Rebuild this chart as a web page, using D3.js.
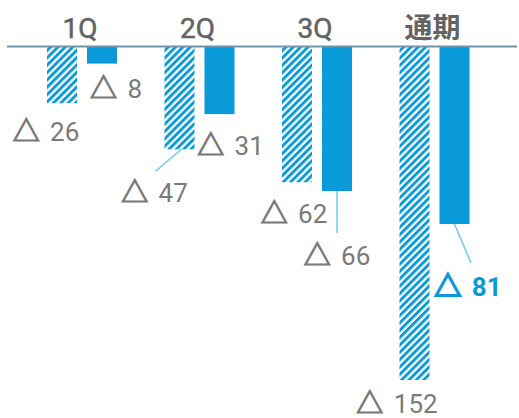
<!DOCTYPE html>
<html>
<head>
<meta charset="utf-8">
<script src="https://cdn.jsdelivr.net/npm/d3@7"></script>
<style>
  html, body { margin: 0; padding: 0; background: #fff; }
  svg { display: block; }
  text { font-family: Roboto, "Noto Sans CJK JP", sans-serif; }
</style>
</head>
<body>
<svg id="chart" width="519" height="418"></svg>
<script>
// Quarterly losses (△ = negative), previous year vs current year
const categories = ["1Q", "2Q", "3Q", "通期"];
const previousYear = [26, 47, 62, 152];
const currentYear = [8, 31, 66, 81];
const seriesKeys = ["prev", "curr"];

const svg = d3.select("#chart");

const blue = "#0a9ad9";
const leaderBlue = "#6cc9f0";

// hatched pattern for previous-year bars
const defs = svg.append("defs");
const pat = defs.append("pattern")
  .attr("id", "hatch")
  .attr("patternUnits", "userSpaceOnUse")
  .attr("width", 5.2).attr("height", 5.2)
  .attr("patternTransform", "rotate(45)");
pat.append("rect").attr("width", 5.2).attr("height", 5.2).attr("fill", "#fff");
pat.append("rect").attr("width", 2.9).attr("height", 5.2).attr("fill", blue);

const x = d3.scaleBand().domain(categories).range([23.25, 493.25]).padding(0);
const xs = d3.scaleBand().domain(seriesKeys).range([-35, 35]).paddingInner(0.25).paddingOuter(0);
const y = d3.scaleLinear().domain([0, 152]).range([46, 380]);

const rows = categories.map((c, i) => ({ cat: c, prev: previousYear[i], curr: currentYear[i] }));
const bars = [];
rows.forEach(r => seriesKeys.forEach(k => bars.push({ cat: r.cat, key: k, value: r[k] })));

const cx = d => x(d.cat) + x.bandwidth() / 2;

svg.append("g").selectAll("rect")
  .data(bars)
  .join("rect")
  .attr("x", d => cx(d) + xs(d.key))
  .attr("y", y(0))
  .attr("width", xs.bandwidth())
  .attr("height", d => y(d.value) - y(0))
  .attr("fill", d => d.key === "prev" ? "url(#hatch)" : blue);

// zero line
svg.append("line")
  .attr("x1", 7).attr("x2", 517)
  .attr("y1", y(0) + 0.5).attr("y2", y(0) + 0.5)
  .attr("stroke", "#6f93a8").attr("stroke-width", 2);

// category labels
svg.append("g").selectAll("text")
  .data(categories)
  .join("text")
  .attr("x", d => x(d) + x.bandwidth() / 2 - 2)
  .attr("y", 38)
  .attr("text-anchor", "middle")
  .attr("font-size", 28)
  .attr("font-weight", d => d === "通期" ? 700 : 400)
  .attr("fill", "#636363")
  .attr("stroke", "#636363")
  .attr("stroke-width", d => d === "通期" ? 0 : 0.5)
  .text(d => d);

// value label placement relative to each bar's centre and bottom
const labelLayout = {
  "1Q-prev":  { dx: -16, dy: 38 },
  "1Q-curr":  { dx: 14, dy: 34 },
  "2Q-prev":  { dx: -25, dy: 53, leader: [2, 0, -24, 22] },
  "2Q-curr":  { dx: 11, dy: 41 },
  "3Q-prev":  { dx: -3, dy: 41 },
  "3Q-curr":  { dx: 0, dy: 74, leader: [0, 0, 0, 42] },
  "通期-prev": { dx: -17.5, dy: 33 },
  "通期-curr": { dx: 13.5, dy: 72, leader: [0, 0, 16.5, 39], highlight: true }
};

const barCenter = d => cx(d) + xs(d.key) + xs.bandwidth() / 2;
const lay = d => labelLayout[d.cat + "-" + d.key];
const labelColor = d => lay(d).highlight ? blue : "#7a7a7a";

svg.append("g").selectAll("line")
  .data(bars.filter(d => lay(d).leader))
  .join("line")
  .each(function (d) {
    const L = lay(d).leader;
    d3.select(this)
      .attr("x1", barCenter(d) + L[0]).attr("y1", y(d.value) + L[1])
      .attr("x2", barCenter(d) + L[2]).attr("y2", y(d.value) + L[3]);
  })
  .attr("stroke", leaderBlue).attr("stroke-width", 1.5);

const labels = svg.append("g").selectAll("text")
  .data(bars)
  .join("text")
  .attr("x", d => barCenter(d) + lay(d).dx)
  .attr("y", d => y(d.value) + lay(d).dy)
  .attr("text-anchor", "middle")
  .attr("font-size", 26)
  .attr("font-weight", d => lay(d).highlight ? 700 : 400)
  .attr("fill", labelColor);

// heavier triangle mark
labels.append("tspan")
  .attr("font-family", "'Noto Sans CJK JP', sans-serif")
  .attr("font-size", 27)
  .attr("stroke", labelColor)
  .attr("stroke-width", d => lay(d).highlight ? 1.8 : 1.2)
  .text("△");
labels.append("tspan")
  .attr("dx", 4)
  .text(d => " " + d.value);
</script>
</body>
</html>
